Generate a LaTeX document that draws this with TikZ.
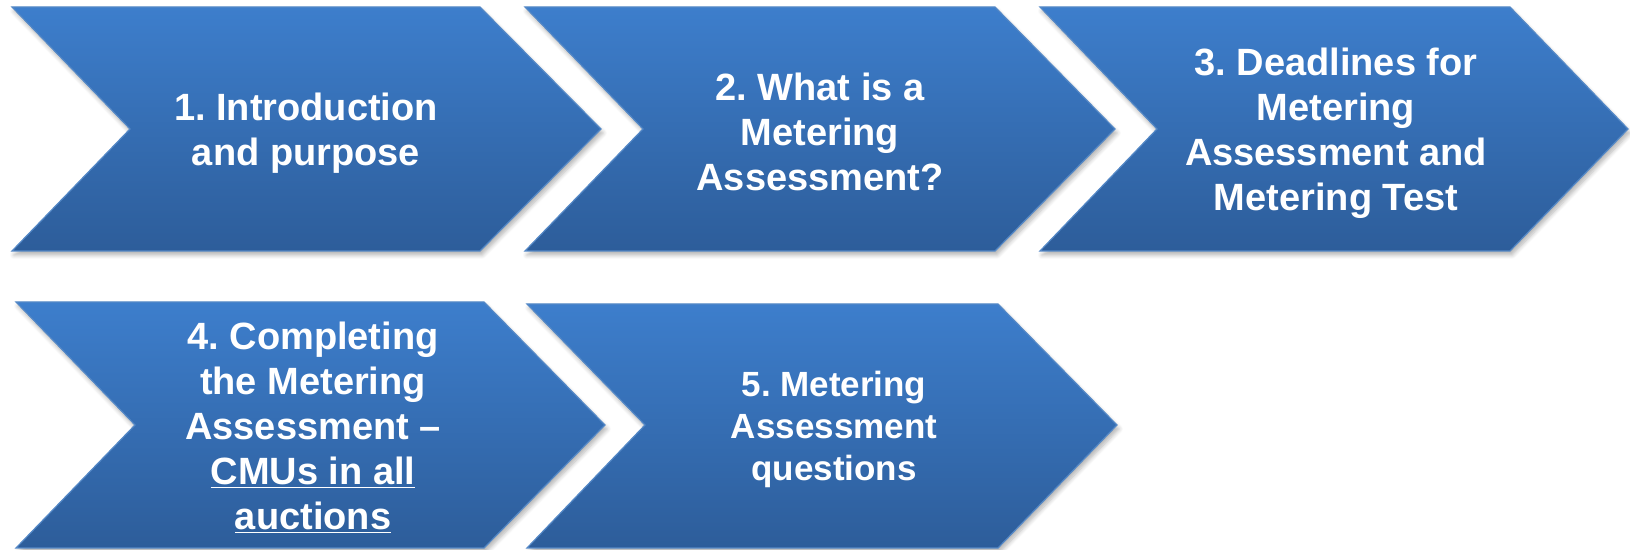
\documentclass[tikz,border=0pt]{standalone}
\usepackage{fontspec}
\setmainfont{Liberation Sans}
\usetikzlibrary{shadows.blur}
\definecolor{chevtop}{RGB}{61,126,204}
\definecolor{chevbot}{RGB}{45,93,154}
\definecolor{chevline}{RGB}{84,136,198}
\tikzstyle{every node}=[font=\frenchspacing\bfseries\fontsize{19}{22.5}\selectfont,text=white,align=center]
\tikzstyle{chev}=[top color=chevtop,bottom color=chevbot,draw=chevline,line width=0.6pt,line join=miter,
  blur shadow={shadow xshift=1pt,shadow yshift=-2pt,shadow opacity=30,shadow blur steps=6}]

\begin{document}
\begin{tikzpicture}[x=0.5pt,y=0.5pt]
  \useasboundingbox (0,0) rectangle (1630,550);
  % first row
  \draw[chev] (12,543)--(480,543)--(601,421)--(480,299)--(12,299)--(130,421)--cycle;
  \draw[chev] (525,543)--(995,543)--(1115,421)--(995,299)--(525,299)--(643,421)--cycle;
  \draw[chev] (1040,543)--(1510,543)--(1628,421)--(1510,299)--(1040,299)--(1157,421)--cycle;
  % second row
  \draw[chev] (16,248)--(484,248)--(605,125)--(484,2)--(16,2)--(135,125)--cycle;
  \draw[chev] (527,246)--(998,246)--(1117,125)--(998,2)--(527,2)--(645,125)--cycle;
  \node (intro) at (306,417) {1. Introduction\\and purpose};
  \node (whatis) at (820,418) {2. What is a\\Metering\\Assessment?};
  \node (deadlines) at (1336,417) {3. Deadlines for\\Metering\\Assessment and\\Metering Test};
  \node (completing) at (313,122) {4. Completing\\the Metering\\Assessment --\\\underline{CMUs in all}\\\underline{auctions}};
  \node[font=\frenchspacing\bfseries\fontsize{17.5}{21}\selectfont] (questions) at (834,121) {5. Metering\\Assessment\\questions};
\end{tikzpicture}
\end{document}
